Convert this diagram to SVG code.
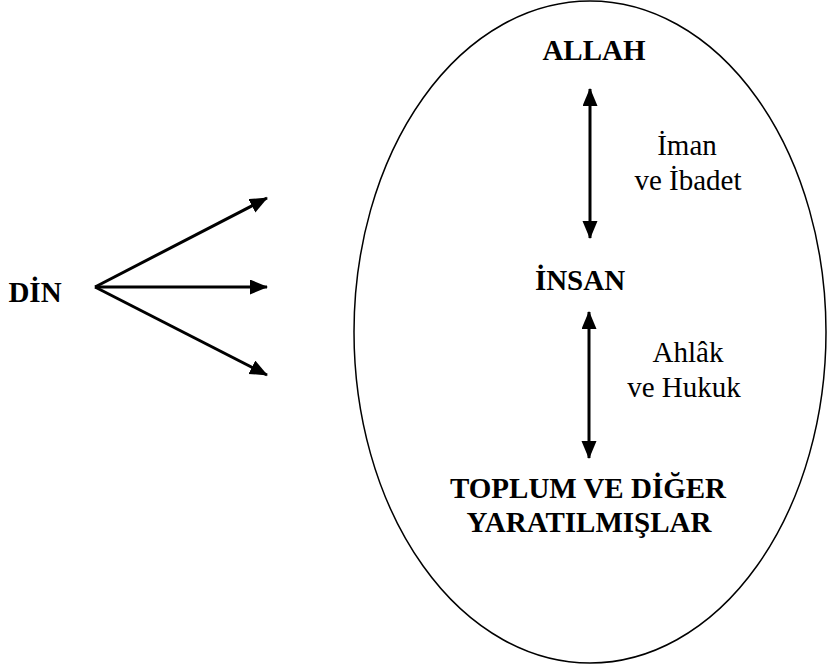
<svg xmlns="http://www.w3.org/2000/svg" width="827" height="669" viewBox="0 0 827 669">
<style>
text{font-family:'Liberation Serif','Times New Roman',Times,serif;font-size:29px;fill:#000;text-anchor:middle}
.b{font-weight:bold}
.c{stroke:#000;stroke-width:3;fill:none}
</style>
<defs>
<marker id="ah" markerUnits="userSpaceOnUse" markerWidth="18" markerHeight="16" refX="17" refY="7.5" orient="auto-start-reverse">
<path d="M0,0 L18,7.5 L0,15 Z" fill="#000"/>
</marker>
</defs>
<rect width="827" height="669" fill="#fff"/>
<g id="ellipse"><ellipse cx="590" cy="332" rx="236" ry="331" fill="none" stroke="#000" stroke-width="1.5"/></g>
<g id="din"><text class="b" x="35" y="302" font-size="33">DİN</text></g>
<g id="allah"><text class="b" x="594" y="60">ALLAH</text></g>
<g id="insan"><text class="b" x="580" y="290">İNSAN</text></g>
<g id="toplum"><text class="b" x="588" y="498">TOPLUM VE DİĞER</text><text class="b" x="589" y="532">YARATILMIŞLAR</text></g>
<g id="labels">
<text x="687" y="155">İman</text>
<text x="688" y="190">ve İbadet</text>
<text x="688" y="362">Ahlâk</text>
<text x="684" y="397">ve Hukuk</text>
</g>
<g id="connectors">
<line class="c" x1="95" y1="287" x2="267" y2="198" marker-end="url(#ah)"/>
<line class="c" x1="95" y1="287" x2="267" y2="287" marker-end="url(#ah)"/>
<line class="c" x1="95" y1="287" x2="267" y2="375" marker-end="url(#ah)"/>
<line class="c" x1="590" y1="89" x2="590" y2="238" marker-start="url(#ah)" marker-end="url(#ah)"/>
<line class="c" x1="589" y1="312" x2="589" y2="458" marker-start="url(#ah)" marker-end="url(#ah)"/>
</g>
</svg>
